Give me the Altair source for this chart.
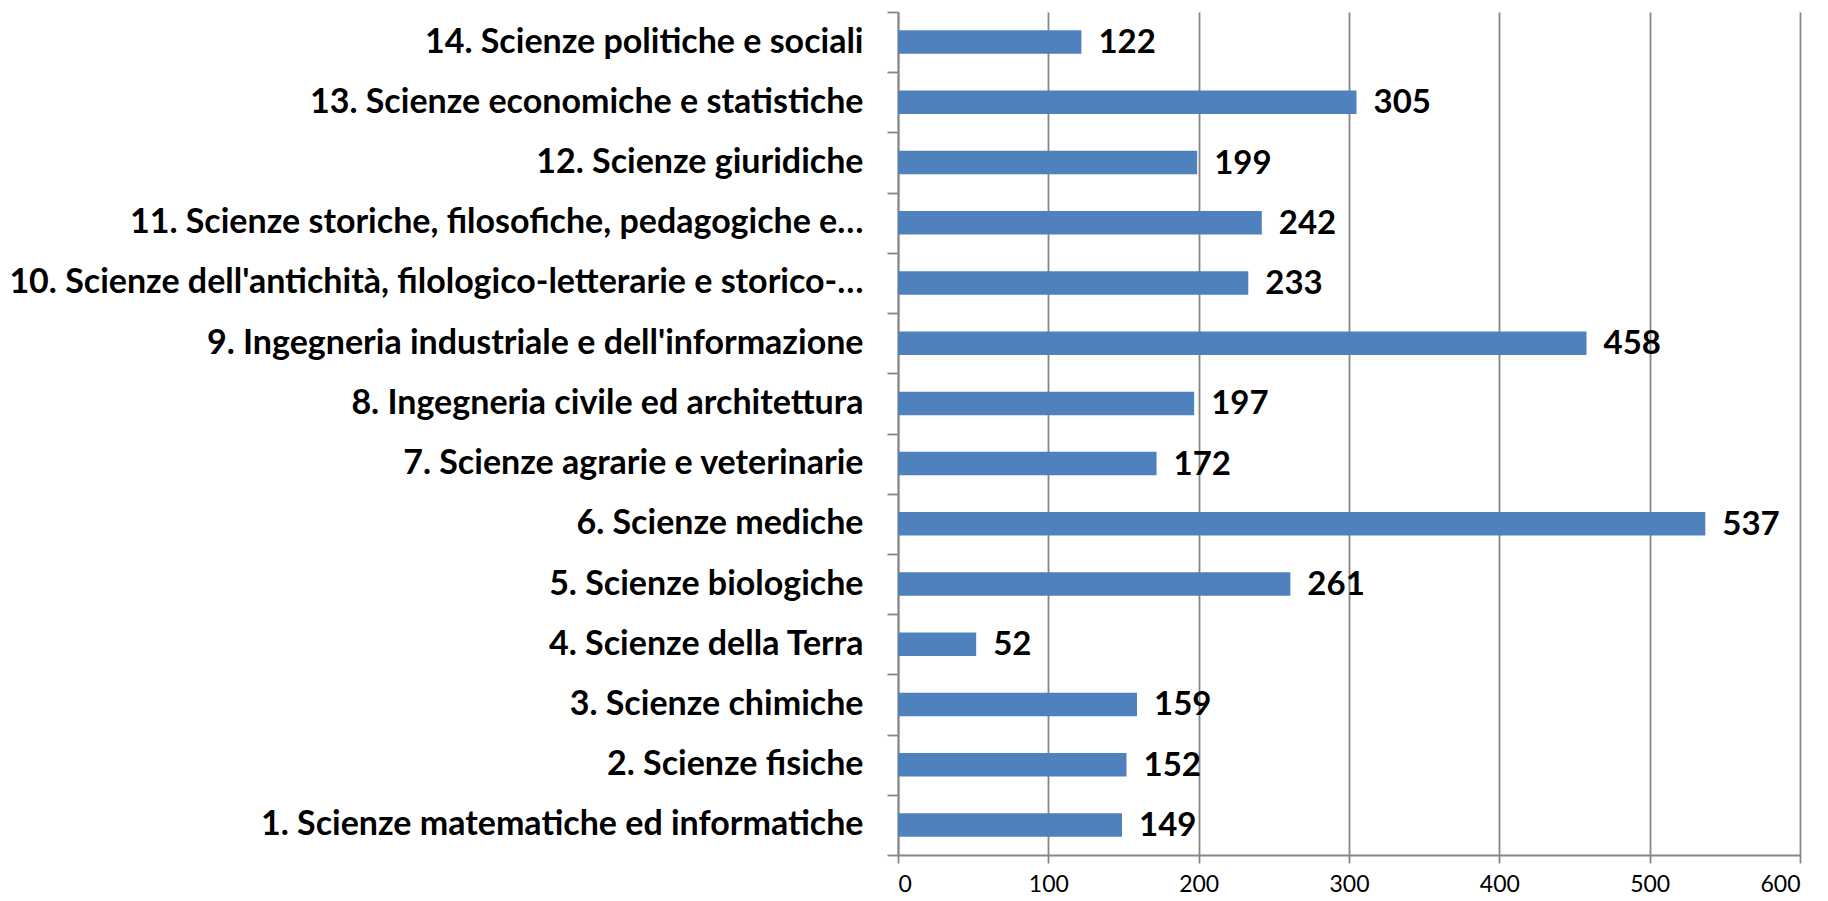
import altair as alt
import pandas as pd

categories = [
    "1. Scienze matematiche ed informatiche",
    "2. Scienze fisiche",
    "3. Scienze chimiche",
    "4. Scienze della Terra",
    "5. Scienze biologiche",
    "6. Scienze mediche",
    "7. Scienze agrarie e veterinarie",
    "8. Ingegneria civile ed architettura",
    "9. Ingegneria industriale e dell'informazione",
    "10. Scienze dell'antichità, filologico-letterarie e storico-…",
    "11. Scienze storiche, filosofiche, pedagogiche e…",
    "12. Scienze giuridiche",
    "13. Scienze economiche e statistiche",
    "14. Scienze politiche e sociali",
]
values = [149, 152, 159, 52, 261, 537, 172, 197, 458, 233, 242, 199, 305, 122]
x_ticks = [0, 100, 200, 300, 400, 500, 600]

df = pd.DataFrame({"cat": categories, "val": values})
order = list(reversed(categories))

GREY = "#868686"

y_enc = alt.Y(
    "cat:N",
    sort=order,
    scale=alt.Scale(paddingInner=0, paddingOuter=0),
    axis=alt.Axis(
        title=None,
        tickBand="extent",
        tickSize=11,
        labelPadding=24,
        labelFont="Lato",
        labelFontSize=34,
        labelFontWeight="bold",
        labelColor="black",
        domainColor=GREY,
        tickColor=GREY,
        domainWidth=1.8,
        tickWidth=1.8,
        labelLimit=1000,
        grid=False,
    ),
)

x_enc = alt.X(
    "val:Q",
    scale=alt.Scale(domain=[0, 600], nice=False),
    axis=alt.Axis(
        values=x_ticks,
        title=None,
        grid=True,
        gridColor=GREY,
        gridWidth=1.8,
        domainColor=GREY,
        domainWidth=1.8,
        tickColor=GREY,
        tickWidth=1.8,
        tickSize=8,
        labelFont="Lato",
        labelFontSize=23,
        labelColor="black",
        labelPadding=10,
    ),
)

base = alt.Chart(df).encode(y=y_enc, x=x_enc)

bars = base.mark_bar(color="#4F81BD", height=alt.RelativeBandSize(0.39))
labels = base.mark_text(
    align="left",
    baseline="middle",
    dx=17,
    dy=1,
    font="Lato",
    fontSize=33,
    fontWeight="bold",
    color="black",
).encode(text="val:Q")

chart = (
    alt.layer(bars, labels)
    .properties(
        width=902,
        height=843,
        autosize=alt.AutoSizeParams(type="none"),
        padding={"left": 890, "top": 4, "right": 20, "bottom": 44},
    )
    .configure_view(stroke=None)
)

chart.save("out.html", embed_options={"renderer": "svg", "actions": False})
